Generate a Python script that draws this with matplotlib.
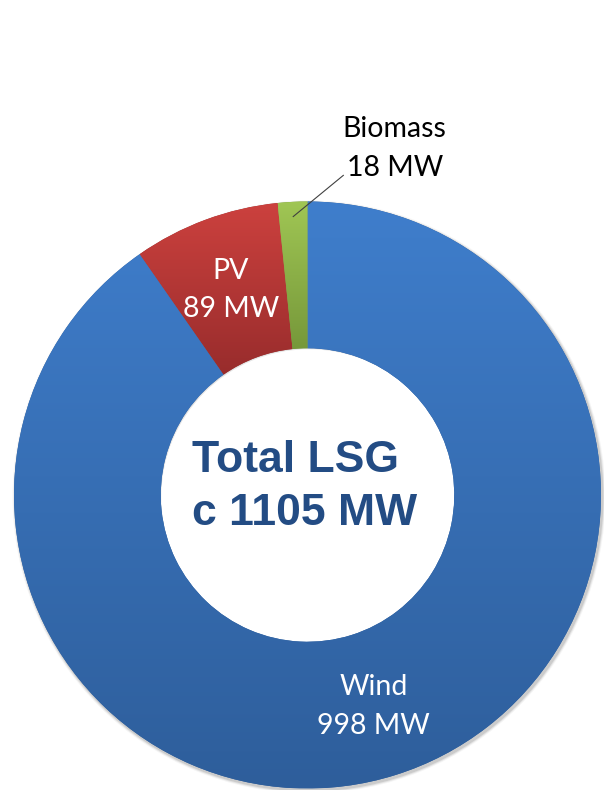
import numpy as np
import matplotlib
matplotlib.use("Agg")
import matplotlib.pyplot as plt
from matplotlib.colors import LinearSegmentedColormap
from matplotlib.patches import Circle, Wedge

# data
labels = ['Wind', 'PV', 'Biomass']
values = [998, 89, 18]
unit = 'MW'
total_lines = ['Total LSG', 'c 1105 MW']
# (top, bottom) gradient colours per slice
grads = [('#3f7ecc', '#2e5e9b'), ('#cc413e', '#982c2c'), ('#a0c654', '#76983a')]

W, H = 604, 790
CX, CY, R = 307.5, 495, 293.5  # pixel centre / radius of the ring
HOLE = 0.50
PX = 1 / R  # one pixel in data units

fig = plt.figure(figsize=(W / 100, H / 100), dpi=100)
ax = fig.add_axes([0, 0, 1, 1])

# soft shadow under the ring
for k, a in enumerate([0.10, 0.07, 0.04]):
    ax.add_patch(Wedge((1.5 * PX, -2 * PX), 1 + (k + 1) * PX, 0, 360,
                       width=1 - HOLE, color='black', alpha=a, lw=0, zorder=0))

wedges, _ = ax.pie(values, startangle=90, counterclock=False, radius=1,
                   colors=[g[1] for g in grads],
                   wedgeprops=dict(width=1 - HOLE, linewidth=0, zorder=1))

# vertical gradient on every slice
for w, (top, bot) in zip(wedges, grads):
    cmap = LinearSegmentedColormap.from_list('g', [bot, top])
    bb = w.get_path().get_extents()
    grad = np.linspace(0, 1, 256).reshape(-1, 1)
    im = ax.imshow(grad, cmap=cmap, origin='lower', aspect='auto',
                   extent=[bb.x0, bb.x1, bb.y0, bb.y1], zorder=2)
    im.set_clip_path(w)

ax.set_xlim(-CX / R, (W - CX) / R)
ax.set_ylim(-(H - CY) / R, CY / R)
ax.set_aspect('auto')
ax.axis('off')

lab_font = dict(family='Lato', fontsize=20.5)
r_lab = (1 + HOLE) / 2


def two_lines(x, y, l1, l2, color):
    # block centred at (x, y); baselines placed like the original
    ax.text(x, y + 10 * PX, l1, color=color, ha='center', va='baseline',
            zorder=5, **lab_font)
    ax.text(x, y - 28.5 * PX, l2, color=color, ha='center', va='baseline',
            zorder=5, **lab_font)


for w, name, v in zip(wedges, labels, values):
    mid = np.deg2rad((w.theta1 + w.theta2) / 2)
    if name == 'Biomass':
        tx, ty = 0.297, 1.184
        ax.plot([0.95 * np.cos(mid), tx - 0.175], [0.95 * np.sin(mid), ty - 0.095],
                color='#404040', lw=0.8, zorder=5)
        two_lines(tx, ty, name, f'{v} {unit}', 'black')
    else:
        two_lines(r_lab * np.cos(mid), r_lab * np.sin(mid), name,
                  f'{v} {unit}', 'white')

# centre text, left aligned block
cfont = dict(family='Liberation Sans', fontweight='bold', fontsize=32,
             color='#234c84', ha='left', va='baseline', zorder=5)
ax.text((192 - CX) * PX, (CY - 472) * PX, total_lines[0], **cfont)
ax.text((192 - CX) * PX, (CY - 525) * PX, total_lines[1], **cfont)

fig.savefig('out.png', dpi=100, facecolor='white')
